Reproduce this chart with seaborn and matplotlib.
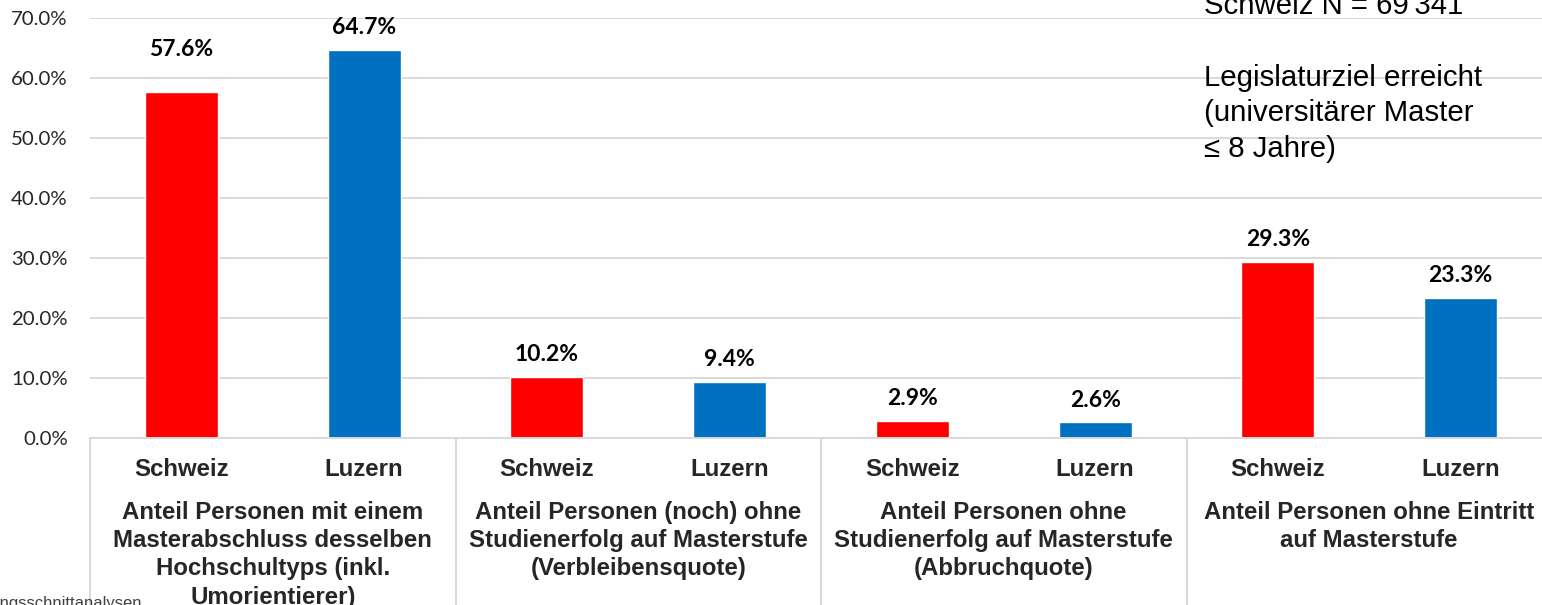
import pandas as pd
import matplotlib.pyplot as plt
import matplotlib.transforms as mtransforms
import seaborn as sns

gruppen = [
    "Anteil Personen mit einem\nMasterabschluss desselben\nHochschultyps (inkl.\nUmorientierer)",
    "Anteil Personen (noch) ohne\nStudienerfolg auf Masterstufe\n(Verbleibensquote)",
    "Anteil Personen ohne\nStudienerfolg auf Masterstufe\n(Abbruchquote)",
    "Anteil Personen ohne Eintritt\nauf Masterstufe",
]
regionen = ["Schweiz", "Luzern"]
werte_schweiz = [57.6, 10.2, 2.9, 29.3]
werte_luzern = [64.7, 9.4, 2.6, 23.3]
y_ticks = [0, 10, 20, 30, 40, 50, 60, 70]
farben = {"Schweiz": "#ff0000", "Luzern": "#0070c0"}

notiz = "Schweiz N = 69'341\n\nLegislaturziel erreicht\n(universitärer Master\n≤ 8 Jahre)"
quelle = "Längsschnittanalysen"

df = pd.DataFrame({
    "gruppe": gruppen * 2,
    "region": ["Schweiz"] * 4 + ["Luzern"] * 4,
    "wert": werte_schweiz + werte_luzern,
})

sns.set_theme(style="white")
plt.rcParams['font.family'] = ['Liberation Sans', 'DejaVu Sans']

fig = plt.figure(figsize=(15.42, 6.05), dpi=100)
ax = fig.add_axes([90 / 1542, 167 / 605, 1462 / 1542, 420 / 605])

sns.barplot(data=df, x="gruppe", y="wert", hue="region", order=gruppen,
            hue_order=regionen, palette=farben, width=1.0, gap=0.6,
            saturation=1, legend=False, ax=ax)

ax.set_xlim(-0.5, 3.5)
ax.set_ylim(0, 70)
ax.set_yticks(y_ticks)
ax.set_yticklabels([f"{v:.1f}%" for v in y_ticks], family=['Lato', 'DejaVu Sans'],
                   fontsize=14.7, color="#262626")
ax.tick_params(axis='y', length=0, pad=16)
ax.set_xticks([])
ax.set_xlabel("")
ax.set_ylabel("")
ax.grid(axis='y', color="#d9d9d9", linewidth=1.4)
ax.set_axisbelow(True)
for s in ax.spines.values():
    s.set_visible(False)

# Wertelabels (57.6% sitzt im Original etwas höher)
extra = {(0, 0): 15}
for i, cont in enumerate(ax.containers):
    for j, bar in enumerate(cont):
        h = bar.get_height()
        ax.annotate(f"{h:.1f}%", (bar.get_x() + bar.get_width() / 2, h),
                    xytext=(0, 16 + extra.get((i, j), 0)), textcoords="offset points",
                    ha="center", va="center", fontsize=16.5, fontweight="bold",
                    family=['Lato', 'DejaVu Sans'], color="#000000")

# Kategorienachse
trans = mtransforms.blended_transform_factory(ax.transData, ax.transAxes)
for k in range(len(gruppen) + 1):
    ax.plot([k - 0.5, k - 0.5], [0, -0.42], transform=trans, color="#d9d9d9",
            linewidth=1.4, clip_on=False)
ax.plot([-0.5, 3.5], [0, 0], transform=trans, color="#d9d9d9", linewidth=1.4, clip_on=False)

for k, g in enumerate(gruppen):
    for d, r in zip([-0.25, 0.25], regionen):
        ax.text(k + d, -0.076, r, transform=trans, ha="center", va="center",
                fontsize=17.3, fontweight="bold")
    ax.text(k, -0.151, g, transform=trans, ha="center", va="top",
            fontsize=17.3, fontweight="bold", linespacing=1.28)

fig.text(1204 / 1542, 1 - 77.5 / 605, notiz, ha="left", va="center",
         fontsize=21.2, linespacing=1.36, color="#000000")
fig.text(142 / 1542, 1 - 608 / 605, quelle, ha="right", va="baseline",
         fontsize=12, color="#404040")

fig.savefig("out.png", dpi=100)
